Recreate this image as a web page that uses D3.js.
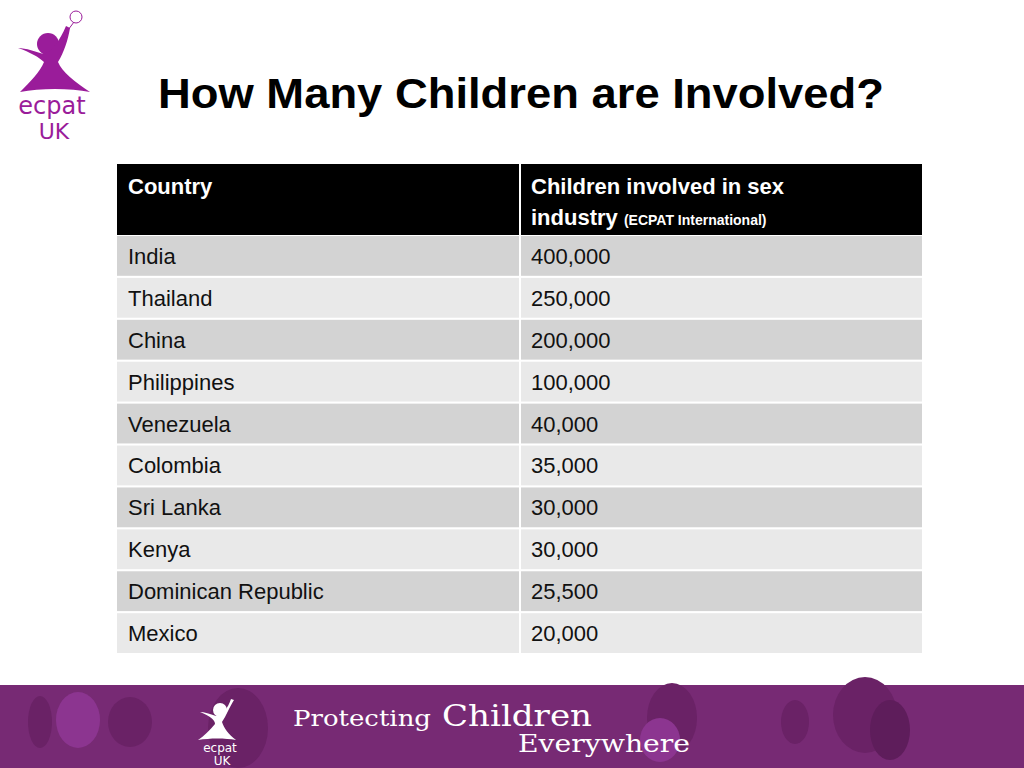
<!DOCTYPE html>
<html><head><meta charset="utf-8">
<script src="https://cdn.jsdelivr.net/npm/d3@7"></script>
<style>body{margin:0;background:#fff}svg{display:block}</style>
</head><body>
<script>
const countries=["India","Thailand","China","Philippines","Venezuela","Colombia","Sri Lanka","Kenya","Dominican Republic","Mexico"];
const children=[400000,250000,200000,100000,40000,35000,30000,30000,25500,20000];
const headers=["Country","Children involved in sex"];

const W=1024,H=768;
const svg=d3.select("body").append("svg").attr("width",W).attr("height",H);
const F="Liberation Sans, Arial, sans-serif";

svg.append("text").attr("x",521).attr("y",108).attr("text-anchor","middle")
 .attr("font-family",F).attr("font-weight","bold").attr("font-size",43).attr("fill","#000")
 .attr("textLength",726).attr("lengthAdjust","spacingAndGlyphs")
 .text("How Many Children are Involved?");

const lg=svg.append("g").attr("fill","#9a1c9a");
lg.append("circle").attr("cx",48).attr("cy",44).attr("r",11);
lg.append("path").attr("d","M18,48 C30,52 40,58 44,62 C40,72 30,82 20,92 C40,88 70,88 90,92 C75,82 62,72 58,62 C64,52 68,40 70,28 L66,26 C60,40 52,52 44,54 C36,52 26,48 18,48Z");
const fl=svg.append("g").attr("fill","none").attr("stroke","#9a1c9a").attr("stroke-width",1);
fl.append("circle").attr("cx",76).attr("cy",17).attr("r",6);
fl.append("line").attr("x1",74).attr("y1",22).attr("x2",68).attr("y2",30);
svg.append("text").attr("x",52).attr("y",114).attr("text-anchor","middle").attr("font-family","DejaVu Sans").attr("font-size",24).attr("fill","#9a1c9a").text("ecpat");
svg.append("text").attr("x",54).attr("y",139).attr("text-anchor","middle").attr("font-family","DejaVu Sans").attr("font-size",22).attr("fill","#9a1c9a").text("UK");

const x0=117,xm=520,x1=922;
const y=d3.scaleBand().domain(countries).range([236,653]).paddingInner(0.05);
svg.append("rect").attr("x",x0).attr("y",164).attr("width",x1-x0).attr("height",71).attr("fill","#000");
svg.append("line").attr("x1",xm).attr("x2",xm).attr("y1",164).attr("y2",235).attr("stroke","#fff").attr("stroke-width",2);
svg.append("text").attr("x",128).attr("y",194).attr("font-family",F).attr("font-weight","bold").attr("font-size",22).attr("fill","#fff").text(headers[0]);
svg.append("text").attr("x",531).attr("y",194).attr("font-family",F).attr("font-weight","bold").attr("font-size",22).attr("fill","#fff").text(headers[1]);
const t=svg.append("text").attr("x",531).attr("y",225).attr("font-family",F).attr("font-weight","bold").attr("fill","#fff");
t.append("tspan").attr("font-size",22).text("industry ");
t.append("tspan").attr("font-size",14).text("(ECPAT International)");

const rows=svg.selectAll("g.row").data(countries).enter().append("g");
rows.append("rect").attr("x",x0).attr("y",d=>y(d)).attr("width",xm-x0-1).attr("height",y.bandwidth())
 .attr("fill",(d,i)=>i%2?"#e9e9e9":"#d3d3d3");
rows.append("rect").attr("x",xm+1).attr("y",d=>y(d)).attr("width",x1-xm-1).attr("height",y.bandwidth())
 .attr("fill",(d,i)=>i%2?"#e9e9e9":"#d3d3d3");
rows.append("text").attr("x",128).attr("y",d=>y(d)+y.bandwidth()/2+8).attr("font-family",F).attr("font-size",22).attr("fill","#111").text(d=>d);
rows.append("text").attr("x",531).attr("y",d=>y(d)+y.bandwidth()/2+8).attr("font-family",F).attr("font-size",22).attr("fill","#111").text((d,i)=>d3.format(",")(children[i]));

const ft=svg.append("g");
ft.append("rect").attr("x",0).attr("y",685).attr("width",W).attr("height",83).attr("fill","#772a74");
[[40,722,12,26,"#6a2266"],[78,720,22,28,"#8c3590"],[130,722,22,25,"#6a2266"],[238,728,30,40,"#6a2266"],[672,718,25,35,"#6a2266"],[660,740,20,22,"#8c3590"],[795,722,14,22,"#6a2266"],[865,715,32,38,"#6a2266"],[890,730,20,30,"#5e1d5b"]]
 .forEach(e=>ft.append("ellipse").attr("cx",e[0]).attr("cy",e[1]).attr("rx",e[2]).attr("ry",e[3]).attr("fill",e[4]));
ft.append("circle").attr("cx",220).attr("cy",710).attr("r",7).attr("fill","#fff");
ft.append("path").attr("d","M200,712 C210,716 215,720 215,724 C210,730 204,736 198,740 C210,738 225,738 236,740 C228,734 224,728 222,722 C226,716 230,706 234,700 L231,699 C228,708 222,716 216,716 C210,714 204,712 200,712Z").attr("fill","#fff");
ft.append("text").attr("x",220).attr("y",752).attr("text-anchor","middle").attr("font-family","DejaVu Sans").attr("font-size",12).attr("fill","#fff").text("ecpat");
ft.append("text").attr("x",222).attr("y",765).attr("text-anchor","middle").attr("font-family","DejaVu Sans").attr("font-size",12).attr("fill","#fff").text("UK");
const pf="DejaVu Serif, serif";
ft.append("text").attr("x",293).attr("y",726).attr("font-family",pf).attr("font-size",22).attr("fill","#fff").attr("textLength",138).attr("lengthAdjust","spacingAndGlyphs").text("Protecting");
ft.append("text").attr("x",442).attr("y",726).attr("font-family",pf).attr("font-size",30).attr("fill","#fff").attr("textLength",150).attr("lengthAdjust","spacingAndGlyphs").text("Children");
ft.append("text").attr("x",518).attr("y",752).attr("font-family",pf).attr("font-size",24).attr("fill","#fff").attr("textLength",172).attr("lengthAdjust","spacingAndGlyphs").text("Everywhere");
</script>
</body></html>
